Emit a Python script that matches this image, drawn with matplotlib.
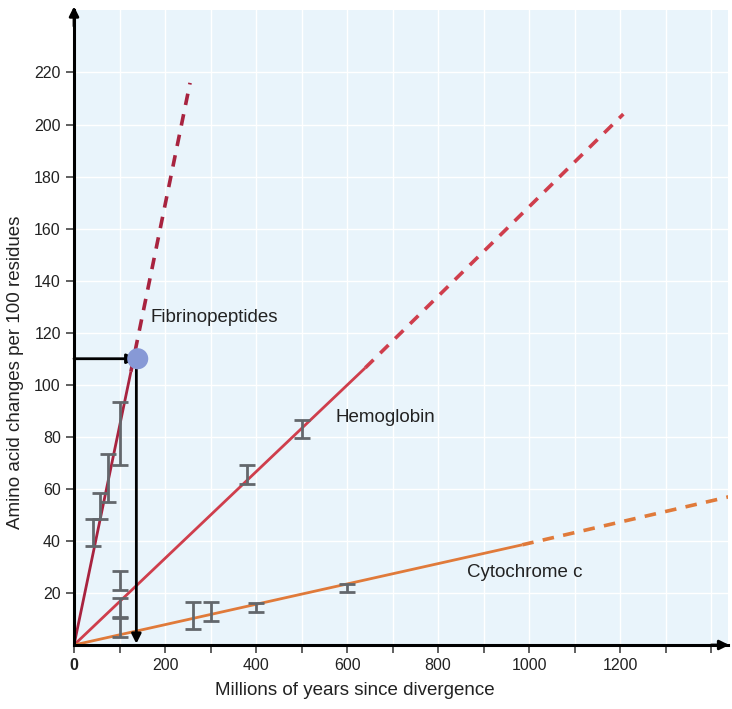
import matplotlib.pyplot as plt
import numpy as np

# line segments: (x, y) of solid end and dashed end, lines start at origin
fib_solid = (125, 105)
fib_dash = (255, 216)
hem_solid = (640, 106.5)
hem_dash = (1207, 204)
cyt_solid = (985, 38.5)
cyt_dash = (1440, 57)

# error bars: x, low, high
fib_x = [42, 57, 75, 101]
fib_lo = [38, 48.5, 55, 69]
fib_hi = [48.5, 58.5, 73.5, 93.5]

hem_x = [102, 102, 102, 380, 500]
hem_lo = [3, 10.2, 21.3, 62, 79.6]
hem_hi = [10.6, 18, 28.3, 69, 86.5]

cyt_x = [262, 300, 400, 600]
cyt_lo = [6.2, 9.4, 12.8, 20.4]
cyt_hi = [16.5, 16.5, 16.2, 23.5]

# read-off point
point_x = 140
point_y = 110

x_ticks = np.arange(0, 1401, 100)
x_labels = ["0", "", "200", "", "400", "", "600", "", "800", "", "1000", "", "1200", "", ""]
y_ticks = np.arange(20, 221, 20)

plt.rc("font", family=["Liberation Sans", "DejaVu Sans"], size=11.5)

fig = plt.figure(figsize=(7.32, 7.09), dpi=100)
ax = fig.add_axes([74 / 732, 64 / 709, 654 / 732, 635 / 709])
ax.set_facecolor("#e9f4fb")
ax.set_xlim(0, 1437)
ax.set_ylim(0, 244)

ax.set_xticks(x_ticks)
ax.set_xticklabels(x_labels)
ax.get_xticklabels()[0].set_fontweight("bold")
ax.set_yticks(y_ticks)
ax.tick_params(direction="out", length=6, width=1.2, color="#444444", labelcolor="#222222")
ax.grid(color="white", linewidth=1.0, zorder=0)
ax.set_axisbelow(True)

for s in ["top", "right"]:
    ax.spines[s].set_visible(False)
for s in ["left", "bottom"]:
    ax.spines[s].set_linewidth(2.2)
    ax.spines[s].set_zorder(6)

# axis arrowheads
ax.annotate("", xy=(0, 1.01), xytext=(0, 0.97), xycoords="axes fraction",
            arrowprops=dict(arrowstyle="-|>", color="black", lw=2, mutation_scale=14),
            annotation_clip=False)
ax.annotate("", xy=(1.006, 0), xytext=(0.97, 0), xycoords="axes fraction",
            arrowprops=dict(arrowstyle="-|>", color="black", lw=2, mutation_scale=14),
            annotation_clip=False)

# lines
specs = [
    (fib_solid, fib_dash, "#a8233f"),
    (hem_solid, hem_dash, "#cf3e4c"),
    (cyt_solid, cyt_dash, "#e07a3a"),
]
for solid, dash, col in specs:
    ax.plot([0, solid[0]], [0, solid[1]], color=col, lw=2.0, zorder=3, solid_capstyle="butt")
    ax.plot([solid[0], dash[0]], [solid[1], dash[1]], color=col, lw=2.6,
            dashes=(3.2, 2.6), zorder=3)

# error bars
for xs, lo, hi in [(fib_x, fib_lo, fib_hi), (hem_x, hem_lo, hem_hi), (cyt_x, cyt_lo, cyt_hi)]:
    xs = np.array(xs)
    lo = np.array(lo)
    hi = np.array(hi)
    mid = (lo + hi) / 2
    ax.errorbar(xs, mid, yerr=[mid - lo, hi - mid], fmt="none", ecolor="#63676c",
                elinewidth=2.0, capsize=5.5, capthick=2.0, zorder=4)

# read-off arrows and point
ax.annotate("", xy=(point_x - 3, point_y), xytext=(0, point_y),
            arrowprops=dict(arrowstyle="-|>", color="black", lw=2, mutation_scale=14,
                            shrinkA=0, shrinkB=0), zorder=5)
ax.annotate("", xy=(point_x - 3, 0.5), xytext=(point_x - 3, point_y),
            arrowprops=dict(arrowstyle="-|>", color="black", lw=2, mutation_scale=14,
                            shrinkA=0, shrinkB=0), zorder=5)
ax.scatter([point_x], [point_y], s=230, color="#8799d6", zorder=6, edgecolors="none")

# labels
ax.text(167, 126, "Fibrinopeptides", fontsize=13.5, va="center", color="#222222")
ax.text(574, 87.5, "Hemoglobin", fontsize=13.5, va="center", color="#222222")
ax.text(864, 28, "Cytochrome c", fontsize=13.5, va="center", color="#222222")

ax.set_xlabel("Millions of years since divergence", fontsize=13.5, color="#222222")
ax.xaxis.set_label_coords(0.43, -0.058)
ax.set_ylabel("Amino acid changes per 100 residues", fontsize=13.5, color="#222222")
ax.yaxis.set_label_coords(-0.076, 0.43)

fig.savefig("out.png", dpi=100)
